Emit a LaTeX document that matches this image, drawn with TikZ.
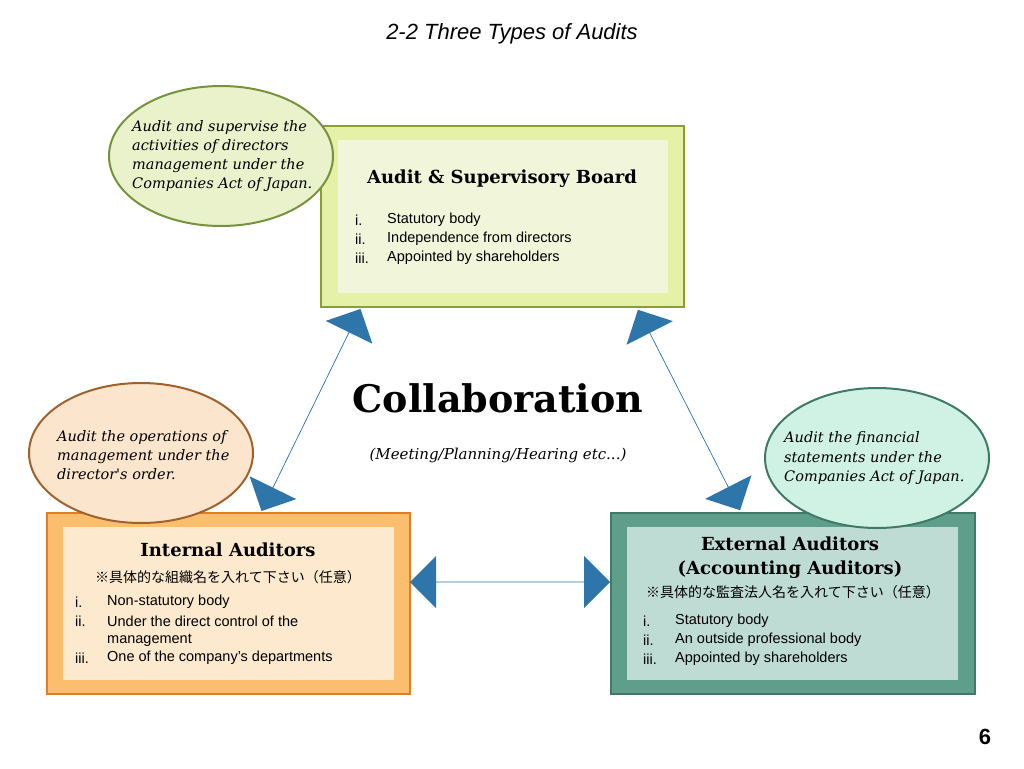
\documentclass[tikz,border=0pt]{standalone}
\usepackage{fontspec}
\setmainfont{Liberation Serif}
\setsansfont{Liberation Sans}
\newfontfamily\hdfont{DejaVu Serif}
\newfontfamily\itfont{DejaVu Serif}
\newfontfamily\jp{Noto Sans CJK JP}
\usetikzlibrary{shapes.arrows,shapes.geometric}
\definecolor{arr}{HTML}{2E75AA}
\definecolor{tfill}{RGB}{230,241,168}
\definecolor{tdraw}{RGB}{138,160,44}
\definecolor{tin}{RGB}{241,246,218}
\definecolor{lfill}{RGB}{251,190,110}
\definecolor{ldraw}{RGB}{225,125,35}
\definecolor{lin}{RGB}{253,233,206}
\definecolor{rfill}{RGB}{94,158,138}
\definecolor{rdraw}{RGB}{62,122,102}
\definecolor{rin}{RGB}{190,220,211}
\definecolor{eadraw}{RGB}{118,146,60}
\definecolor{eafill}{RGB}{233,242,203}
\definecolor{ebdraw}{RGB}{160,98,45}
\definecolor{ebfill}{RGB}{251,229,204}
\definecolor{ecfill}{RGB}{208,242,228}
\begin{document}
\begin{tikzpicture}[x=1pt,y=-1pt,
  hd/.style={font=\hdfont\bfseries\fontsize{18}{22}\selectfont,align=center},
  lst/.style={font=\sffamily\fontsize{14.5}{19}\selectfont,anchor=west,inner sep=0},
  ell/.style={ellipse,draw=#1,line width=2pt,minimum width=224pt,minimum height=140pt,inner sep=0},
  etx/.style={font=\itfont\itshape\fontsize{14.5}{19.3}\selectfont,align=left,anchor=west,inner sep=0},
  darr/.style={double arrow,fill=arr,draw=none,minimum width=52pt,double arrow head extend=14pt,inner sep=0,double arrow head indent=0pt}]
\useasboundingbox (0,0) rectangle (1024,768);
\node[font=\sffamily\itshape\fontsize{22}{26}\selectfont] (title) at (512,34) {2-2 Three Types of Audits};
% top box
\filldraw[line width=1.5pt,fill=tfill,draw=tdraw] (321,126) rectangle (684,307);
\fill[tin] (338,140) rectangle (668,293);
\node[hd] (tb) at (502,179) {Audit \& Supervisory Board};
\foreach \n/\t/\y in {i./Statutory body/220, ii./Independence from directors/239, iii./Appointed by shareholders/258}{
  \node[lst] at (355,\y) {\n}; \node[lst] at (387,\y) {\t};}
% left box
\filldraw[line width=1.5pt,fill=lfill,draw=ldraw] (47,513) rectangle (410,694);
\fill[lin] (63,527) rectangle (394,680);
\node[hd] (lb) at (228,550) {Internal Auditors};
\node[font=\jp\fontsize{14}{17}\selectfont] at (228,577) {※具体的な組織名を入れて下さい（任意）};
\foreach \n/\t/\y in {i./Non-statutory body/602, ii./Under the direct control of the/621, /management/640, iii./One of the company's departments/658}{
  \node[lst] at (75,\y) {\n}; \node[lst] at (107,\y) {\t};}
% right box
\filldraw[line width=1.5pt,fill=rfill,draw=rdraw] (611,513) rectangle (975,694);
\fill[rin] (627,527) rectangle (958,680);
\node[hd,font=\hdfont\bfseries\fontsize{18}{24}\selectfont] (rb) at (790,558) {External Auditors\\(Accounting Auditors)};
\node[font=\jp\fontsize{14}{17}\selectfont] at (793,592) {※具体的な監査法人名を入れて下さい（任意）};
\foreach \n/\t/\y in {i./Statutory body/621, ii./An outside professional body/640, iii./Appointed by shareholders/659}{
  \node[lst] at (643,\y) {\n}; \node[lst] at (675,\y) {\t};}
% ellipses
\node[ell=eadraw,fill=eafill] (e1) at (221,156) {};
\node[etx] at (132,156) {Audit and supervise the\\activities of directors\\management under the\\Companies Act of Japan.};
\node[ell=ebdraw,fill=ebfill] (e2) at (141,453) {};
\node[etx] at (57,455) {Audit the operations of\\management under the\\director's order.};
\node[ell=rdraw,fill=ecfill] (e3) at (877,458) {};
\node[etx] at (784,458) {Audit the financial\\statements under the\\Companies Act of Japan.};
% center
\node[font=\hdfont\bfseries\fontsize{38}{44}\selectfont] (col) at (498,398) {Collaboration};
\node[font=\itfont\itshape\fontsize{15}{18}\selectfont] (sub) at (498,455) {(Meeting/Planning/Hearing etc...)};
% arrows
\node[darr,minimum height=225pt,rotate=63.9] (a1) at (311,410) {};
\node[darr,minimum height=225pt,rotate=-63] (a2) at (689,410) {};
\node[darr,minimum height=200pt] (a3) at (510,582) {};
\node[font=\sffamily\bfseries\fontsize{22}{26}\selectfont] (pg) at (985,737) {6};
\end{tikzpicture}
\end{document}
